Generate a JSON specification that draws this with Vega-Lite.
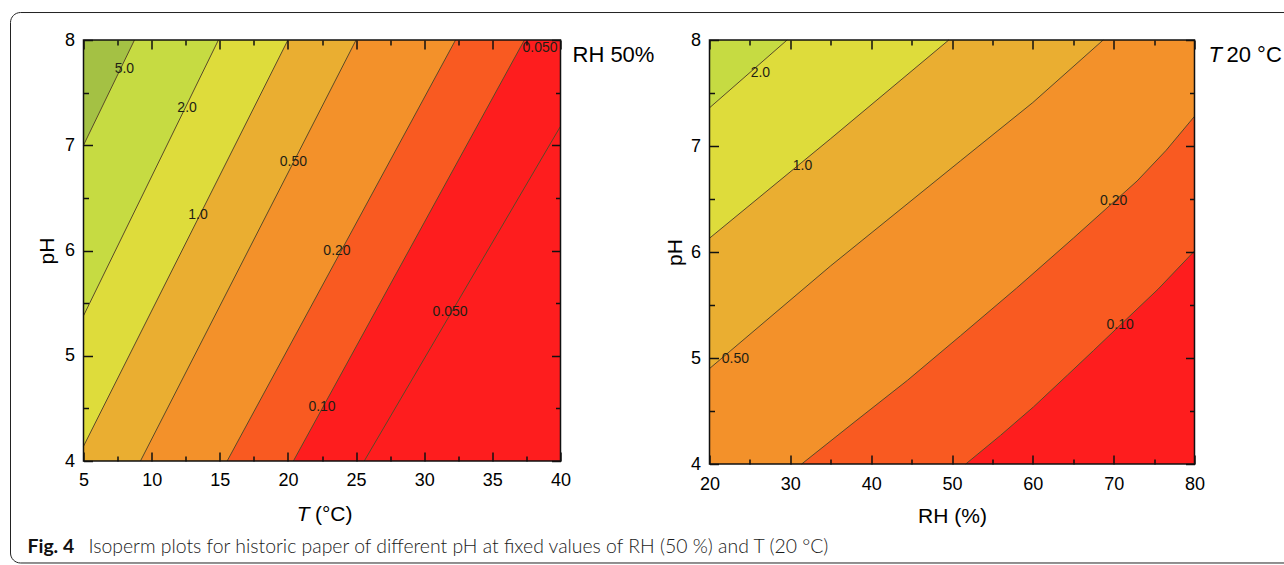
{
"$schema": "https://vega.github.io/schema/vega-lite/v6.json",
"background": "white",
"padding": {"left": 9.5, "top": 12, "right": 0, "bottom": 0},
"bounds": "flush",
"spacing": 149,
"config": {
  "view": {"stroke": null},
  "axis": {"labelFont": "Liberation Sans", "labelFontSize": 18, "labelColor": "#000", "tickColor": "#111", "tickWidth": 1.5, "domain": false, "grid": false, "titleFont": "Liberation Sans", "titleFontSize": 21, "titleFontWeight": "normal", "titleColor": "#000", "labelFlush": false, "labelOverlap": false},
  "text": {"font": "Liberation Sans"}
},
"datasets": {
  "leftContours": [
    {"level": "5.0", "T": 5, "pH": 7.0}, {"level": "5.0", "T": 8.74, "pH": 8},
    {"level": "2.0", "T": 5, "pH": 5.38}, {"level": "2.0", "T": 14.9, "pH": 8},
    {"level": "1.0", "T": 5, "pH": 4.14}, {"level": "1.0", "T": 20.0, "pH": 8},
    {"level": "0.50", "T": 9.18, "pH": 4}, {"level": "0.50", "T": 25.0, "pH": 8},
    {"level": "0.20", "T": 15.54, "pH": 4}, {"level": "0.20", "T": 32.3, "pH": 8},
    {"level": "0.10", "T": 20.4, "pH": 4}, {"level": "0.10", "T": 37.35, "pH": 8},
    {"level": "0.050", "T": 25.6, "pH": 4}, {"level": "0.050", "T": 40, "pH": 7.18}
  ],
  "leftLabels": [
    {"label": "5.0", "T": 8.0, "pH": 7.72}, {"label": "2.0", "T": 12.6, "pH": 7.35},
    {"label": "0.50", "T": 20.4, "pH": 6.84}, {"label": "1.0", "T": 13.4, "pH": 6.34},
    {"label": "0.20", "T": 23.6, "pH": 6.0}, {"label": "0.050", "T": 31.9, "pH": 5.42},
    {"label": "0.10", "T": 22.5, "pH": 4.51}, {"label": "0.050", "T": 38.5, "pH": 7.92}
  ],
  "rightContours": [
    {"level": "2.0", "RH": 20, "pH": 7.36}, {"level": "2.0", "RH": 29.6, "pH": 8},
    {"level": "1.0", "RH": 20, "pH": 6.13}, {"level": "1.0", "RH": 35, "pH": 7.07}, {"level": "1.0", "RH": 49.6, "pH": 8},
    {"level": "0.50", "RH": 20, "pH": 4.9}, {"level": "0.50", "RH": 35, "pH": 5.87}, {"level": "0.50", "RH": 51.05, "pH": 6.86}, {"level": "0.50", "RH": 60, "pH": 7.41}, {"level": "0.50", "RH": 68.7, "pH": 8},
    {"level": "0.20", "RH": 31.4, "pH": 4}, {"level": "0.20", "RH": 38, "pH": 4.4}, {"level": "0.20", "RH": 44.5, "pH": 4.79}, {"level": "0.20", "RH": 51.05, "pH": 5.21}, {"level": "0.20", "RH": 58, "pH": 5.66}, {"level": "0.20", "RH": 65, "pH": 6.13}, {"level": "0.20", "RH": 72.9, "pH": 6.67}, {"level": "0.20", "RH": 76.5, "pH": 6.96}, {"level": "0.20", "RH": 80, "pH": 7.28},
    {"level": "0.10", "RH": 51.7, "pH": 4}, {"level": "0.10", "RH": 56, "pH": 4.27}, {"level": "0.10", "RH": 60.1, "pH": 4.54}, {"level": "0.10", "RH": 64.3, "pH": 4.84}, {"level": "0.10", "RH": 67.5, "pH": 5.07}, {"level": "0.10", "RH": 70.8, "pH": 5.31}, {"level": "0.10", "RH": 75.5, "pH": 5.65}, {"level": "0.10", "RH": 80, "pH": 6.01}
  ],
  "rightLabels": [
    {"label": "2.0", "RH": 26.3, "pH": 7.69}, {"label": "1.0", "RH": 31.5, "pH": 6.81},
    {"label": "0.50", "RH": 23.2, "pH": 4.99}, {"label": "0.20", "RH": 70.0, "pH": 6.48},
    {"label": "0.10", "RH": 70.8, "pH": 5.31}
  ]
},
"hconcat": [
{
  "width": 477, "height": 421,
  "resolve": {"axis": {"x": "independent", "y": "independent"}},
  "layer": [
    {"data": {"values": [{}]}, "mark": {"type": "rect", "color": "#FE1D1E"},
     "encoding": {
       "x": {"datum": 5, "type": "quantitative", "scale": {"domain": [5, 40], "nice": false, "zero": false}, "axis": {"orient": "bottom", "values": [5, 10, 15, 20, 25, 30, 35, 40], "offset": -9, "tickSize": 9, "labelPadding": 10, "title": null, "zindex": 2}},
       "x2": {"datum": 40},
       "y": {"datum": 4, "type": "quantitative", "scale": {"domain": [4, 8], "nice": false, "zero": false}, "axis": {"orient": "left", "values": [4, 5, 6, 7, 8], "offset": -9, "tickSize": 9, "labelPadding": 9, "title": "pH", "titlePadding": 7, "zindex": 2}},
       "y2": {"datum": 8}}},
    {"data": {"name": "leftContours"}, "transform": [{"filter": "datum.level === '0.10'"}],
     "mark": {"type": "area", "orient": "horizontal", "color": "#F95A21"},
     "encoding": {
       "y": {"field": "pH", "type": "quantitative", "scale": {"domain": [4, 8], "nice": false, "zero": false}, "axis": {"orient": "left", "values": [4.5, 5.5, 6.5, 7.5], "offset": -5, "tickSize": 5, "labels": false, "title": null, "zindex": 2}},
       "x": {"field": "T", "type": "quantitative", "stack": null, "scale": {"domain": [5, 40], "nice": false, "zero": false}, "axis": {"orient": "bottom", "values": [7.5, 12.5, 17.5, 22.5, 27.5, 32.5, 37.5], "offset": -5, "tickSize": 5, "labels": false, "title": null, "zindex": 2}},
       "x2": {"datum": 5}}},
    {"data": {"name": "leftContours"}, "transform": [{"filter": "datum.level === '0.20'"}],
     "mark": {"type": "area", "orient": "horizontal", "color": "#F3912A"},
     "encoding": {
       "y": {"field": "pH", "type": "quantitative", "scale": {"domain": [4, 8], "nice": false, "zero": false}, "axis": {"orient": "right", "values": [4, 5, 6, 7, 8], "offset": -9, "tickSize": 9, "labels": false, "title": null, "zindex": 2}},
       "x": {"field": "T", "type": "quantitative", "stack": null, "scale": {"domain": [5, 40], "nice": false, "zero": false}, "axis": {"orient": "top", "values": [5, 10, 15, 20, 25, 30, 35, 40], "offset": -9, "tickSize": 9, "labels": false, "title": null, "zindex": 2}},
       "x2": {"datum": 5}}},
    {"data": {"name": "leftContours"}, "transform": [{"filter": "datum.level === '0.50'"}],
     "mark": {"type": "area", "orient": "horizontal", "color": "#EAAE31"},
     "encoding": {
       "y": {"field": "pH", "type": "quantitative", "scale": {"domain": [4, 8], "nice": false, "zero": false}, "axis": {"orient": "right", "values": [4.5, 5.5, 6.5, 7.5], "offset": -5, "tickSize": 5, "labels": false, "title": null, "zindex": 2}},
       "x": {"field": "T", "type": "quantitative", "stack": null, "scale": {"domain": [5, 40], "nice": false, "zero": false}, "axis": {"orient": "top", "values": [7.5, 12.5, 17.5, 22.5, 27.5, 32.5, 37.5], "offset": -5, "tickSize": 5, "labels": false, "title": null, "zindex": 2}},
       "x2": {"datum": 5}}},
    {"data": {"name": "leftContours"}, "transform": [{"filter": "datum.level === '1.0'"}],
     "mark": {"type": "area", "orient": "horizontal", "color": "#DEDC3B"},
     "encoding": {
       "y": {"field": "pH", "type": "quantitative", "scale": {"domain": [4, 8], "nice": false, "zero": false}, "axis": null},
       "x": {"field": "T", "type": "quantitative", "stack": null, "scale": {"domain": [5, 40], "nice": false, "zero": false}, "axis": null},
       "x2": {"datum": 5}}},
    {"data": {"name": "leftContours"}, "transform": [{"filter": "datum.level === '2.0'"}],
     "mark": {"type": "area", "orient": "horizontal", "color": "#C6DB42"},
     "encoding": {
       "y": {"field": "pH", "type": "quantitative", "scale": {"domain": [4, 8], "nice": false, "zero": false}, "axis": null},
       "x": {"field": "T", "type": "quantitative", "stack": null, "scale": {"domain": [5, 40], "nice": false, "zero": false}, "axis": null},
       "x2": {"datum": 5}}},
    {"data": {"name": "leftContours"}, "transform": [{"filter": "datum.level === '5.0'"}],
     "mark": {"type": "area", "orient": "horizontal", "color": "#A4C144"},
     "encoding": {
       "y": {"field": "pH", "type": "quantitative", "scale": {"domain": [4, 8], "nice": false, "zero": false}, "axis": null},
       "x": {"field": "T", "type": "quantitative", "stack": null, "scale": {"domain": [5, 40], "nice": false, "zero": false}, "axis": null},
       "x2": {"datum": 5}}},
    {"data": {"name": "leftContours"},
     "mark": {"type": "line", "color": "#5a4a28", "strokeWidth": 1},
     "encoding": {
       "x": {"field": "T", "type": "quantitative", "scale": {"domain": [5, 40], "nice": false, "zero": false}, "axis": null},
       "y": {"field": "pH", "type": "quantitative", "scale": {"domain": [4, 8], "nice": false, "zero": false}, "axis": null},
       "detail": {"field": "level"},
       "order": {"field": "pH", "type": "quantitative"}}},
    {"data": {"name": "leftLabels"},
     "mark": {"type": "text", "fontSize": 14, "color": "#1f1f14"},
     "encoding": {
       "x": {"field": "T", "type": "quantitative", "scale": {"domain": [5, 40], "nice": false, "zero": false}, "axis": null},
       "y": {"field": "pH", "type": "quantitative", "scale": {"domain": [4, 8], "nice": false, "zero": false}, "axis": null},
       "text": {"field": "label"}}},
    {"data": {"values": [{}]}, "mark": {"type": "rect", "fillOpacity": 0, "stroke": "#111", "strokeWidth": 1.5},
     "encoding": {
       "x": {"datum": 5, "type": "quantitative", "scale": {"domain": [5, 40], "nice": false, "zero": false}, "axis": null},
       "x2": {"datum": 40},
       "y": {"datum": 4, "type": "quantitative", "scale": {"domain": [4, 8], "nice": false, "zero": false}, "axis": null},
       "y2": {"datum": 8}}},
    {"data": {"values": [{}]}, "mark": {"type": "text", "text": "RH 50%", "fontSize": 22, "align": "left", "baseline": "alphabetic", "color": "#000"},
     "encoding": {
       "x": {"datum": 40.88, "type": "quantitative", "scale": {"domain": [5, 40], "nice": false, "zero": false}, "axis": null},
       "y": {"datum": 7.791, "type": "quantitative", "scale": {"domain": [4, 8], "nice": false, "zero": false}, "axis": null}}},
    {"data": {"values": [{}]}, "mark": {"type": "text", "text": "T", "fontSize": 21, "fontStyle": "italic", "align": "right", "baseline": "alphabetic", "color": "#000"},
     "encoding": {
       "x": {"datum": 21.58, "type": "quantitative", "scale": {"domain": [5, 40], "nice": false, "zero": false}, "axis": null},
       "y": {"datum": 3.43, "type": "quantitative", "scale": {"domain": [4, 8], "nice": false, "zero": false}, "axis": null}}},
    {"data": {"values": [{}]}, "mark": {"type": "text", "text": "(°C)", "fontSize": 21, "align": "left", "baseline": "alphabetic", "color": "#000"},
     "encoding": {
       "x": {"datum": 21.98, "type": "quantitative", "scale": {"domain": [5, 40], "nice": false, "zero": false}, "axis": null},
       "y": {"datum": 3.43, "type": "quantitative", "scale": {"domain": [4, 8], "nice": false, "zero": false}, "axis": null}}},
    {"data": {"values": [{}]}, "mark": {"type": "text", "text": "Fig. 4", "font": "Lato", "fontSize": 19.4, "fontWeight": "bold", "align": "left", "baseline": "alphabetic", "color": "#111"},
     "encoding": {
       "x": {"datum": 0.891, "type": "quantitative", "scale": {"domain": [5, 40], "nice": false, "zero": false}, "axis": null},
       "y": {"datum": 3.126, "type": "quantitative", "scale": {"domain": [4, 8], "nice": false, "zero": false}, "axis": null}}},
    {"data": {"values": [{}]}, "mark": {"type": "text", "text": "Isoperm plots for historic paper of different pH at fixed values of RH (50 %) and T (20 °C)", "font": "Lato", "fontSize": 19.4, "fontWeight": 300, "align": "left", "baseline": "alphabetic", "color": "#1a1a1a"},
     "encoding": {
       "x": {"datum": 5.367, "type": "quantitative", "scale": {"domain": [5, 40], "nice": false, "zero": false}, "axis": null},
       "y": {"datum": 3.126, "type": "quantitative", "scale": {"domain": [4, 8], "nice": false, "zero": false}, "axis": null}}},
    {"data": {"values": [{}]}, "mark": {"type": "rect", "fillOpacity": 0, "stroke": "#222", "strokeWidth": 1, "cornerRadius": 10},
     "encoding": {
       "x": {"datum": -0.356, "type": "quantitative", "scale": {"domain": [5, 40], "nice": false, "zero": false}, "axis": null},
       "x2": {"datum": 94.3},
       "y": {"datum": 8.261, "type": "quantitative", "scale": {"domain": [4, 8], "nice": false, "zero": false}, "axis": null},
       "y2": {"datum": 3.031}}}
  ]
},
{
  "width": 485, "height": 424,
  "resolve": {"axis": {"x": "independent", "y": "independent"}},
  "layer": [
    {"data": {"values": [{}]}, "mark": {"type": "rect", "color": "#F3912A"},
     "encoding": {
       "x": {"datum": 20, "type": "quantitative", "scale": {"domain": [20, 80], "nice": false, "zero": false}, "axis": {"orient": "bottom", "values": [20, 30, 40, 50, 60, 70, 80], "offset": -9, "tickSize": 9, "labelPadding": 11.5, "title": "RH (%)", "titlePadding": 12, "zindex": 2}},
       "x2": {"datum": 80},
       "y": {"datum": 4, "type": "quantitative", "scale": {"domain": [4, 8], "nice": false, "zero": false}, "axis": {"orient": "left", "values": [4, 5, 6, 7, 8], "offset": -9, "tickSize": 9, "labelPadding": 9, "title": "pH", "titlePadding": 5, "zindex": 2}},
       "y2": {"datum": 8}}},
    {"data": {"name": "rightContours"}, "transform": [{"filter": "datum.level === '0.50'"}],
     "mark": {"type": "area", "orient": "horizontal", "color": "#EAAE31"},
     "encoding": {
       "y": {"field": "pH", "type": "quantitative", "scale": {"domain": [4, 8], "nice": false, "zero": false}, "axis": {"orient": "left", "values": [4.5, 5.5, 6.5, 7.5], "offset": -5, "tickSize": 5, "labels": false, "title": null, "zindex": 2}},
       "x": {"field": "RH", "type": "quantitative", "stack": null, "scale": {"domain": [20, 80], "nice": false, "zero": false}, "axis": {"orient": "bottom", "values": [25, 35, 45, 55, 65, 75], "offset": -5, "tickSize": 5, "labels": false, "title": null, "zindex": 2}},
       "x2": {"datum": 20}}},
    {"data": {"name": "rightContours"}, "transform": [{"filter": "datum.level === '1.0'"}],
     "mark": {"type": "area", "orient": "horizontal", "color": "#DEDC3B"},
     "encoding": {
       "y": {"field": "pH", "type": "quantitative", "scale": {"domain": [4, 8], "nice": false, "zero": false}, "axis": {"orient": "right", "values": [4, 5, 6, 7, 8], "offset": -9, "tickSize": 9, "labels": false, "title": null, "zindex": 2}},
       "x": {"field": "RH", "type": "quantitative", "stack": null, "scale": {"domain": [20, 80], "nice": false, "zero": false}, "axis": {"orient": "top", "values": [20, 30, 40, 50, 60, 70, 80], "offset": -9, "tickSize": 9, "labels": false, "title": null, "zindex": 2}},
       "x2": {"datum": 20}}},
    {"data": {"name": "rightContours"}, "transform": [{"filter": "datum.level === '2.0'"}],
     "mark": {"type": "area", "orient": "horizontal", "color": "#C6DB42"},
     "encoding": {
       "y": {"field": "pH", "type": "quantitative", "scale": {"domain": [4, 8], "nice": false, "zero": false}, "axis": {"orient": "right", "values": [4.5, 5.5, 6.5, 7.5], "offset": -5, "tickSize": 5, "labels": false, "title": null, "zindex": 2}},
       "x": {"field": "RH", "type": "quantitative", "stack": null, "scale": {"domain": [20, 80], "nice": false, "zero": false}, "axis": {"orient": "top", "values": [25, 35, 45, 55, 65, 75], "offset": -5, "tickSize": 5, "labels": false, "title": null, "zindex": 2}},
       "x2": {"datum": 20}}},
    {"data": {"name": "rightContours"}, "transform": [{"filter": "datum.level === '0.20'"}],
     "mark": {"type": "area", "orient": "horizontal", "color": "#F95A21"},
     "encoding": {
       "y": {"field": "pH", "type": "quantitative", "scale": {"domain": [4, 8], "nice": false, "zero": false}, "axis": null},
       "x": {"field": "RH", "type": "quantitative", "stack": null, "scale": {"domain": [20, 80], "nice": false, "zero": false}, "axis": null},
       "x2": {"datum": 80}}},
    {"data": {"name": "rightContours"}, "transform": [{"filter": "datum.level === '0.10'"}],
     "mark": {"type": "area", "orient": "horizontal", "color": "#FE1D1E"},
     "encoding": {
       "y": {"field": "pH", "type": "quantitative", "scale": {"domain": [4, 8], "nice": false, "zero": false}, "axis": null},
       "x": {"field": "RH", "type": "quantitative", "stack": null, "scale": {"domain": [20, 80], "nice": false, "zero": false}, "axis": null},
       "x2": {"datum": 80}}},
    {"data": {"name": "rightContours"},
     "mark": {"type": "line", "color": "#5a4a28", "strokeWidth": 1},
     "encoding": {
       "x": {"field": "RH", "type": "quantitative", "scale": {"domain": [20, 80], "nice": false, "zero": false}, "axis": null},
       "y": {"field": "pH", "type": "quantitative", "scale": {"domain": [4, 8], "nice": false, "zero": false}, "axis": null},
       "detail": {"field": "level"},
       "order": {"field": "pH", "type": "quantitative"}}},
    {"data": {"name": "rightLabels"},
     "mark": {"type": "text", "fontSize": 14, "color": "#1f1f14"},
     "encoding": {
       "x": {"field": "RH", "type": "quantitative", "scale": {"domain": [20, 80], "nice": false, "zero": false}, "axis": null},
       "y": {"field": "pH", "type": "quantitative", "scale": {"domain": [4, 8], "nice": false, "zero": false}, "axis": null},
       "text": {"field": "label"}}},
    {"data": {"values": [{}]}, "mark": {"type": "rect", "fillOpacity": 0, "stroke": "#111", "strokeWidth": 1.5},
     "encoding": {
       "x": {"datum": 20, "type": "quantitative", "scale": {"domain": [20, 80], "nice": false, "zero": false}, "axis": null},
       "x2": {"datum": 80},
       "y": {"datum": 4, "type": "quantitative", "scale": {"domain": [4, 8], "nice": false, "zero": false}, "axis": null},
       "y2": {"datum": 8}}},
    {"data": {"values": [{}]}, "mark": {"type": "text", "text": "T", "fontSize": 22, "fontStyle": "italic", "align": "left", "baseline": "alphabetic", "color": "#000"},
     "encoding": {
       "x": {"datum": 81.73, "type": "quantitative", "scale": {"domain": [20, 80], "nice": false, "zero": false}, "axis": null},
       "y": {"datum": 7.79, "type": "quantitative", "scale": {"domain": [4, 8], "nice": false, "zero": false}, "axis": null}}},
    {"data": {"values": [{}]}, "mark": {"type": "text", "text": "20 °C", "fontSize": 22, "align": "left", "baseline": "alphabetic", "color": "#000"},
     "encoding": {
       "x": {"datum": 83.96, "type": "quantitative", "scale": {"domain": [20, 80], "nice": false, "zero": false}, "axis": null},
       "y": {"datum": 7.79, "type": "quantitative", "scale": {"domain": [4, 8], "nice": false, "zero": false}, "axis": null}}}
  ]
}
]
}
